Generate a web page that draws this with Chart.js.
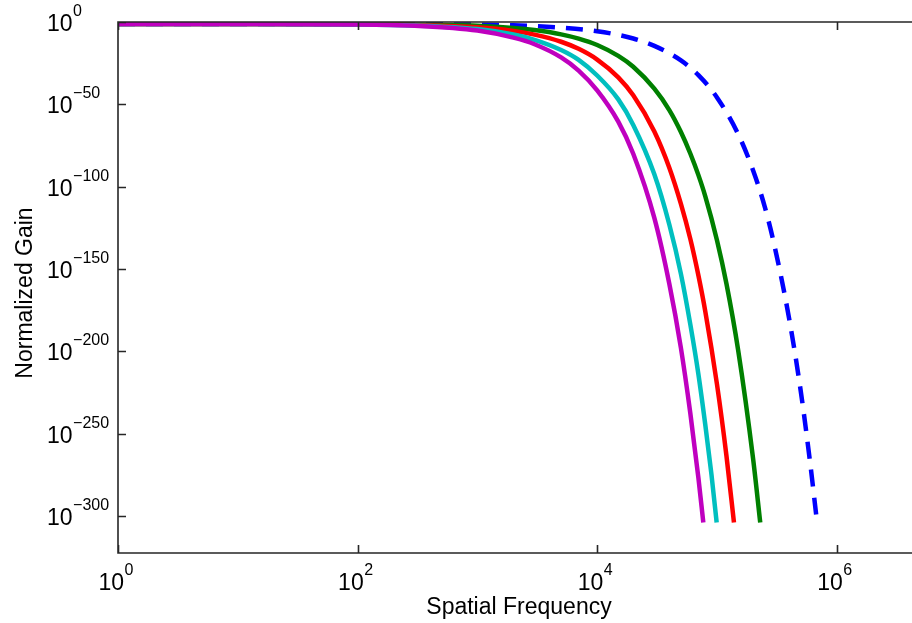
<!DOCTYPE html>
<html>
<head>
<meta charset="utf-8">
<script src="https://cdn.jsdelivr.net/npm/chart.js@4.4.1/dist/chart.umd.min.js"></script>
<style>
  html, body { margin: 0; padding: 0; background: #fff; }
  canvas { display: block; }
</style>
</head>
<body>
<canvas id="gainChart" width="912" height="623"></canvas>
<script>
// spatial frequency samples and log10 of the normalized gain
var magentaFreq = [1, 10, 100, 300, 1000, 2000, 3000, 5000, 7000, 10000, 15000, 20000, 30000, 40000, 50000, 60000, 70000, 76900];
var magentaGain = [-1.2, -1.25, -1.5, -2.3, -5.2, -9.5, -13.5, -21.5, -29.5, -41.5, -60.5, -80, -119, -159, -198, -238, -277, -304];

var cyanFreq = [1, 10, 100, 300, 1000, 2000, 3000, 5000, 7000, 10000, 15000, 20000, 30000, 40000, 50000, 60000, 70000, 80000, 90000, 99400];
var cyanGain = [-1.2, -1.25, -1.45, -2.1, -4.3, -7.6, -10.8, -17, -23, -32.5, -47, -62.5, -92.5, -123, -153, -184, -214, -245, -275, -304];

var redFreq = [1, 10, 100, 300, 1000, 2000, 3000, 5000, 7000, 10000, 15000, 20000, 30000, 40000, 50000, 60000, 70000, 80000, 100000, 120000, 138600];
var redGain = [-1.2, -1.25, -1.4, -1.8, -3.2, -5.4, -7.7, -12, -16.3, -22.8, -33.6, -44.5, -66.5, -88.5, -110.5, -132, -154, -176, -220, -263.5, -304];

var greenFreq = [1, 10, 100, 300, 1000, 2000, 3000, 5000, 7000, 10000, 15000, 20000, 30000, 40000, 50000, 60000, 70000, 80000, 100000, 120000, 150000, 200000, 229700];
var greenGain = [-1.2, -1.25, -1.3, -1.5, -2.3, -3.6, -4.9, -7.5, -10.1, -14, -20.6, -27.2, -40.5, -53.5, -66.8, -80, -93, -106, -132.5, -159, -199, -265, -304];

var blueFreq = [1, 10, 100, 300, 1000, 2000, 5000, 10000, 20000, 30000, 50000, 70000, 100000, 150000, 200000, 250000, 300000, 400000, 500000, 600000, 675000];
var blueGain = [-1.2, -1.2, -1.25, -1.3, -1.6, -2.0, -3.4, -5.6, -10, -14.5, -23.3, -32.3, -45.8, -68, -90, -112, -135, -180, -224, -268, -300];

// tick labels are powers of ten
var xTickPowers = [0, 2, 4, 6];
var yTickPowers = [0, -50, -100, -150, -200, -250, -300];

var xMaxPower = 6.628;
var yMinPower = -322.5;

var labelFont = "'Liberation Sans', Arial, Helvetica, sans-serif";

function toPoints(freq, gain) {
  var pts = [];
  for (var i = 0; i < freq.length; i++) {
    pts.push({ x: freq[i], y: gain[i] });
  }
  return pts;
}

function expText(p) {
  return String(p).replace("-", "\u2212");
}

// "10" with a raised exponent
function drawPower(ctx, x, y, p, centered) {
  var exp = expText(p);
  ctx.font = "23px " + labelFont;
  var bw = ctx.measureText("10").width;
  ctx.font = "16px " + labelFont;
  var ew = ctx.measureText(exp).width;
  var gap = 0.5;
  var x0 = centered ? x - (bw + gap + ew) / 2 - 2 : x;
  ctx.font = "23px " + labelFont;
  ctx.fillText("10", x0, y);
  ctx.font = "16px " + labelFont;
  ctx.fillText(exp, x0 + bw + gap, y - 15);
}

var axesBox = {
  id: "axesBox",
  afterDatasetsDraw: function (chart) {
    var ctx = chart.ctx;
    var area = chart.chartArea;
    var xs = chart.scales.x;
    var ys = chart.scales.y;
    var tickLen = 8;

    ctx.save();
    ctx.strokeStyle = "#262626";
    ctx.lineWidth = 1.6;
    ctx.beginPath();
    ctx.moveTo(area.right, area.top);
    ctx.lineTo(area.left, area.top);
    ctx.lineTo(area.left, area.bottom);
    ctx.lineTo(area.right, area.bottom);

    xs.ticks.forEach(function (t) {
      var px = Math.round(xs.getPixelForValue(t.value)) + 0.5;
      ctx.moveTo(px, area.bottom);
      ctx.lineTo(px, area.bottom - tickLen);
      ctx.moveTo(px, area.top);
      ctx.lineTo(px, area.top + tickLen);
    });
    ys.ticks.forEach(function (t) {
      var py = Math.round(ys.getPixelForValue(t.value)) + 0.5;
      ctx.moveTo(area.left, py);
      ctx.lineTo(area.left + tickLen, py);
    });
    ctx.stroke();

    ctx.fillStyle = "#000";
    ctx.textBaseline = "alphabetic";
    ctx.textAlign = "left";
    xs.ticks.forEach(function (t, i) {
      drawPower(ctx, xs.getPixelForValue(t.value), 590, xTickPowers[i], true);
    });
    ys.ticks.forEach(function (t, i) {
      drawPower(ctx, 47, ys.getPixelForValue(t.value) + 9, yTickPowers[i], false);
    });

    ctx.font = "23px " + labelFont;
    ctx.textAlign = "center";
    ctx.fillText("Spatial Frequency", 519, 614);

    ctx.translate(32, 293);
    ctx.rotate(-Math.PI / 2);
    ctx.fillText("Normalized Gain", 0, 0);
    ctx.restore();
  }
};

function lineSet(label, color, freq, gain, dash) {
  return {
    label: label,
    data: toPoints(freq, gain),
    borderColor: color,
    borderWidth: 4.5,
    borderDash: dash || [],
    borderCapStyle: "butt",
    pointRadius: 0,
    fill: false,
    cubicInterpolationMode: "monotone"
  };
}

var ctx = document.getElementById("gainChart").getContext("2d");
var chart = new Chart(ctx, {
  type: "line",
  data: {
    datasets: [
      lineSet("magenta", "#bf00bf", magentaFreq, magentaGain),
      lineSet("cyan", "#00bfbf", cyanFreq, cyanGain),
      lineSet("red", "#ff0000", redFreq, redGain),
      lineSet("green", "#008000", greenFreq, greenGain),
      lineSet("blue", "#0000ff", blueFreq, blueGain, [17, 11])
    ]
  },
  options: {
    responsive: false,
    devicePixelRatio: 1,
    animation: false,
    layout: { padding: { top: 22, left: 0, right: 0, bottom: 0 } },
    plugins: {
      legend: { display: false },
      tooltip: { enabled: false }
    },
    scales: {
      x: {
        type: "logarithmic",
        min: 1,
        max: Math.pow(10, xMaxPower),
        grid: { display: false },
        border: { display: false },
        ticks: { display: false },
        afterBuildTicks: function (scale) {
          scale.ticks = xTickPowers.map(function (p) {
            return { value: Math.pow(10, p) };
          });
        },
        afterFit: function (scale) {
          scale.height = 70;
        }
      },
      y: {
        type: "linear",
        min: yMinPower,
        max: 0,
        grid: { display: false },
        border: { display: false },
        ticks: { display: false },
        afterBuildTicks: function (scale) {
          scale.ticks = yTickPowers.map(function (p) {
            return { value: p };
          });
        },
        afterFit: function (scale) {
          scale.width = 118;
        }
      }
    }
  },
  plugins: [axesBox]
});
</script>
</body>
</html>
